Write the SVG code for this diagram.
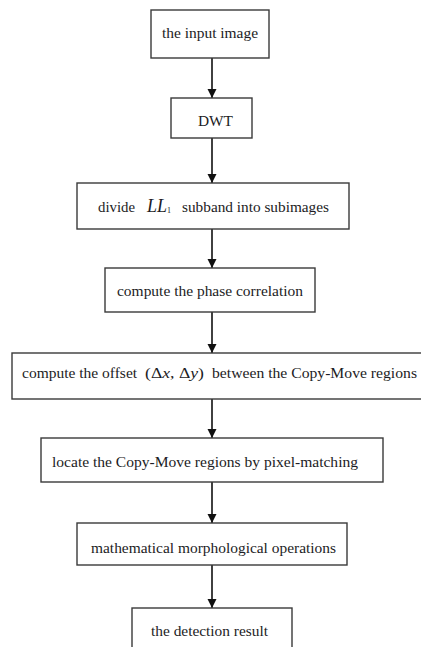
<svg xmlns="http://www.w3.org/2000/svg" width="421" height="647" viewBox="0 0 421 647">
<style>
.box{fill:#fff;stroke:#3a3a3a;stroke-width:1.4}
.t{font-family:"Liberation Serif","Times New Roman",serif;font-size:15.5px;fill:#1c1c24}
.m{font-style:italic}
.c{stroke:#111;stroke-width:1.6;fill:none}
</style>
<defs>
<marker id="ah" markerUnits="userSpaceOnUse" markerWidth="10" markerHeight="11" refX="9" refY="5" orient="auto">
<path d="M0,0.5 L9,5 L0,9.5 Z" fill="#111"/>
</marker>
</defs>
<rect width="421" height="647" fill="#fff"/>
<g id="connectors">
<line class="c" x1="212" y1="58" x2="212" y2="98" marker-end="url(#ah)"/>
<line class="c" x1="212" y1="138" x2="212" y2="183" marker-end="url(#ah)"/>
<line class="c" x1="212" y1="229" x2="212" y2="268" marker-end="url(#ah)"/>
<line class="c" x1="212" y1="312" x2="212" y2="353" marker-end="url(#ah)"/>
<line class="c" x1="212" y1="399" x2="212" y2="438" marker-end="url(#ah)"/>
<line class="c" x1="212" y1="482" x2="212" y2="523" marker-end="url(#ah)"/>
<line class="c" x1="212" y1="565" x2="212" y2="608" marker-end="url(#ah)"/>
</g>
<g id="n1"><rect class="box" x="151" y="10" width="118" height="48"/>
<text class="t" x="162" y="38" textLength="96" lengthAdjust="spacingAndGlyphs">the input image</text></g>
<g id="n2"><rect class="box" x="171" y="98" width="81" height="40"/>
<text class="t" x="198" y="126" textLength="35" lengthAdjust="spacingAndGlyphs">DWT</text></g>
<g id="n3"><rect class="box" x="77" y="183" width="272" height="46"/>
<text class="t" x="98" y="212" textLength="37" lengthAdjust="spacingAndGlyphs">divide</text>
<text class="t m" x="147" y="212" style="font-size:19px" textLength="20" lengthAdjust="spacingAndGlyphs">LL</text>
<text class="t" x="167" y="213" style="font-size:8px">1</text>
<text class="t" x="182" y="212" textLength="147" lengthAdjust="spacingAndGlyphs">subband into subimages</text></g>
<g id="n4"><rect class="box" x="105" y="268" width="210" height="44"/>
<text class="t" x="117" y="296" textLength="186" lengthAdjust="spacingAndGlyphs">compute the phase correlation</text></g>
<g id="n5"><rect class="box" x="12" y="353" width="415" height="46"/>
<text class="t" x="22" y="378">compute the offset</text>
<text class="t" x="145" y="378" textLength="59" lengthAdjust="spacingAndGlyphs">(Δ<tspan class="m">x</tspan>, Δ<tspan class="m">y</tspan>)</text>
<text class="t" x="212" y="378" textLength="205" lengthAdjust="spacingAndGlyphs">between the Copy-Move regions</text></g>
<g id="n6"><rect class="box" x="41" y="438" width="342" height="44"/>
<text class="t" x="52" y="467" textLength="306" lengthAdjust="spacingAndGlyphs">locate the Copy-Move regions by pixel-matching</text></g>
<g id="n7"><rect class="box" x="77" y="523" width="270" height="42"/>
<text class="t" x="91" y="553" textLength="245" lengthAdjust="spacingAndGlyphs">mathematical morphological operations</text></g>
<g id="n8"><rect class="box" x="132" y="608" width="160" height="45"/>
<text class="t" x="151" y="636" textLength="117" lengthAdjust="spacingAndGlyphs">the detection result</text></g>
</svg>
